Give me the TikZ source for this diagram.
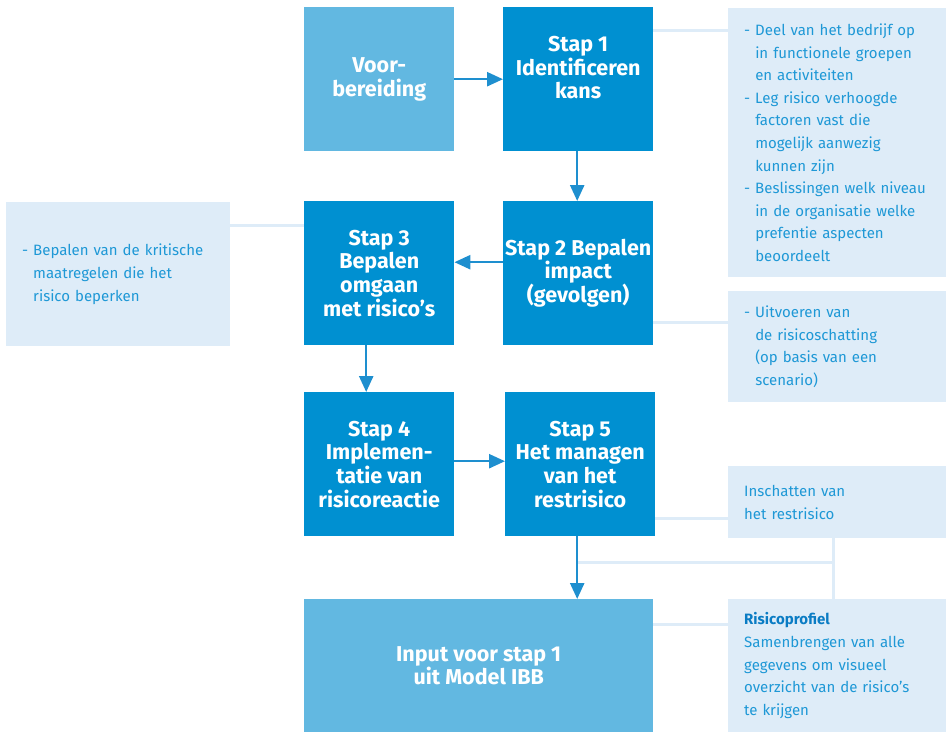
\documentclass[tikz,border=0pt]{standalone}
\usepackage{fontspec}
\setmainfont{Fira Sans}
\usetikzlibrary{arrows.meta}
\definecolor{stepblue}{HTML}{0090D1}
\definecolor{prepblue}{HTML}{62B8E1}
\definecolor{notefill}{HTML}{DEECF8}
\definecolor{notetext}{HTML}{1E98D6}
\definecolor{notehead}{HTML}{0A7CC4}
\definecolor{arrowblue}{HTML}{1E8FCF}
\newcommand\contline{\phantom{-\ }}
\begin{document}
\begin{tikzpicture}[x=1pt,y=-1pt,
  stepbox/.style={fill=stepblue,text=white,anchor=north west,inner sep=0pt,
    minimum width=150pt,minimum height=144pt,align=center,
    font=\fontsize{21.5}{23.6}\selectfont\bfseries},
  prepbox/.style={stepbox,fill=prepblue},
  notebox/.style={fill=notefill,text=notetext,anchor=north west,inner ysep=0pt,
    inner xsep=16pt,minimum width=218pt,text width=186pt,align=left,
    font=\fontsize{15}{22.6}\selectfont},
  flow/.style={draw=arrowblue,line width=2.5pt,-{Triangle[length=16pt,width=14pt]}},
  link/.style={draw=notefill,line width=3pt}]
\useasboundingbox (0,0) rectangle (946,732);

% process steps
\node[prepbox] (voor) at (304,7) {Voor-\\bereiding};
\node[stepbox] (s1) at (503,7) {Stap 1\\Identificeren\\kans\\\mbox{}};
\node[stepbox] (s2) at (503,201) {Stap 2 Bepalen\\impact\\(gevolgen)};
\node[stepbox] (s3) at (304,201) {Stap 3\\Bepalen\\omgaan\\met risico’s};
\node[stepbox] (s4) at (304,392) {Stap 4\\Implemen-\\tatie van\\risicoreactie};
\node[stepbox] (s5) at (505,392) {Stap 5\\Het managen\\van het\\restrisico};
\node[prepbox,minimum width=349pt,minimum height=133pt] (inp) at (304,599)
  {Input voor stap 1\\uit Model IBB};

% notes
\node[notebox,minimum height=269pt] (n1) at (728,8)
  {- Deel van het bedrijf op\\\contline in functionele groepen\\\contline en activiteiten\\
   - Leg risico verhoogde\\\contline factoren vast die\\\contline mogelijk aanwezig\\\contline kunnen zijn\\
   - Beslissingen welk niveau\\\contline in de organisatie welke\\\contline prefentie aspecten\\\contline beoordeelt};
\node[notebox,minimum width=224pt,text width=192pt,minimum height=144pt] (n3) at (6,202)
  {- Bepalen van de kritische\\\contline maatregelen die het\\\contline risico beperken};
\node[notebox,minimum height=111pt] (n2) at (728,291)
  {- Uitvoeren van\\\contline de risicoschatting\\\contline (op basis van een\\\contline scenario)};
\node[notebox,minimum height=72pt] (n4) at (728,466)
  {Inschatten van\\het restrisico};
\node[notebox,minimum height=133pt] (n5) at (728,599)
  {{\bfseries\color{notehead}Risicoprofiel}\\Samenbrengen van alle\\gegevens om visueel\\overzicht van de risico’s\\te krijgen};

% note connectors
\coordinate (c1) at ([yshift=-23pt]s1.north east);
\draw[link] (c1) -- (c1 -| n1.west);
\coordinate (c3) at ([yshift=-24pt]s3.north west);
\draw[link] (c3) -- (c3 -| n3.east);
\coordinate (c2) at ([yshift=-121pt]s2.north east);
\draw[link] (c2) -- (c2 -| n2.west);
\coordinate (c5) at ([yshift=-126pt]s5.north east);
\draw[link] (c5) -- (c5 -| n4.west);
\coordinate (ci) at ([yshift=-25pt]inp.north east);
\draw[link] (ci) -- (ci -| n5.west);
\coordinate (j) at ([xshift=105pt]n4.south west);
\draw[link] (j) -- (j |- n5.north);
\coordinate (k) at ([xshift=-3pt,yshift=-26pt]s5.south);
\draw[link] (k) -- (k -| j);

% flow arrows
\draw[flow] (voor.east) -- (s1.west);
\draw[flow] ([xshift=-1pt]s1.south) -- ([xshift=-1pt]s2.north);
\draw[flow] ([yshift=11pt]s2.west) -- ([yshift=11pt]s3.east);
\draw[flow] ([xshift=-13pt]s3.south) -- ([xshift=-13pt]s4.north);
\draw[flow] ([yshift=3pt]s4.east) -- ([yshift=3pt]s4.east -| s5.west);
\coordinate (d5) at ([xshift=-3pt]s5.south);
\draw[flow] (d5) -- (d5 |- inp.north);
\end{tikzpicture}
\end{document}
